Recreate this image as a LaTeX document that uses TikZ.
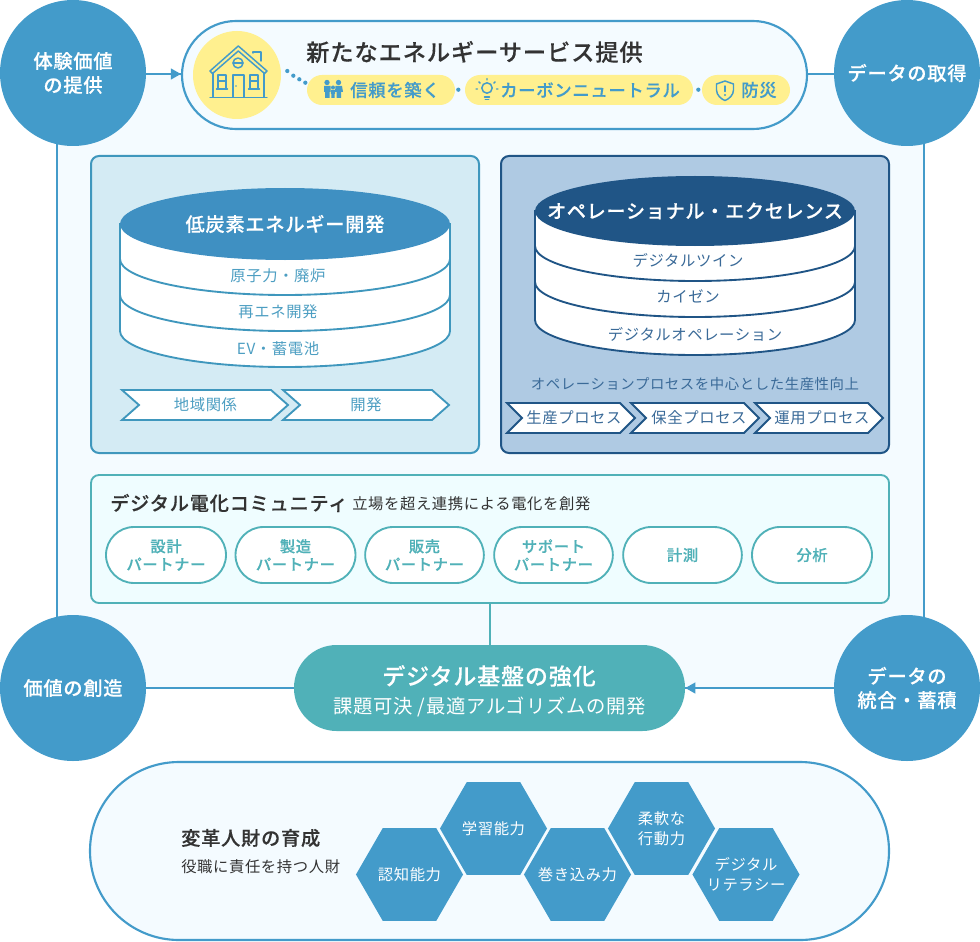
\documentclass[tikz,border=0pt]{standalone}
\usepackage{fontspec}
\setmainfont{Noto Sans CJK JP}[LetterSpace=4,BoldFont={Noto Sans CJK JP Medium},BoldFeatures={FakeBold=0.25}]
\usetikzlibrary{arrows.meta,shapes.geometric}
\definecolor{cblue}{HTML}{439BCA}
\definecolor{pale}{HTML}{F4FBFF}
\definecolor{lpanel}{HTML}{D4EBF4}
\definecolor{lline}{HTML}{3F97BD}
\definecolor{ltop}{HTML}{3F90C2}
\definecolor{ltext}{HTML}{4C9EC2}
\definecolor{rpanel}{HTML}{AFCAE3}
\definecolor{rline}{HTML}{205586}
\definecolor{rtext}{HTML}{3A6A98}
\definecolor{teal}{HTML}{50B1B8}
\definecolor{tealbg}{HTML}{EFFDFF}
\definecolor{yel}{HTML}{FFF08F}
\definecolor{ink}{HTML}{333333}
\newcommand{\pxf}[2]{\fontsize{#1pt}{#2pt}\selectfont}
\tikzset{
  x=0.75pt,y=-0.75pt,
  txt/.style={inner sep=0pt,align=center},
  f11/.style={font=\pxf{11.5}{13.5}},
  f13/.style={font=\pxf{13}{15}},
  fb13/.style={font=\bfseries\pxf{13}{15}},
  fb14/.style={font=\bfseries\pxf{14.4}{18}},
  fb11/.style={font=\bfseries\pxf{11.5}{13.5}},
  circ/.style={circle,fill=cblue,text=white,minimum size=109.5pt,inner sep=0pt,align=center,font=\bfseries\pxf{14.4}{18}},
  link/.style={cblue,line width=1.5pt},
  tipped/.style={-{Triangle[length=7.5pt,width=8pt]}},
  panelL/.style={draw=lline,fill=lpanel,line width=1.5pt,rounded corners=6pt},
  panelR/.style={draw=rline,fill=rpanel,line width=1.5pt,rounded corners=6pt},
  ypill/.style={fill=yel,rounded corners=11.25pt,inner sep=0pt,minimum height=22.5pt},
  cpill/.style={draw=teal,fill=white,line width=1.4pt,rounded corners=21pt,inner sep=0pt,minimum height=42pt,text=teal,align=center,font=\bfseries\pxf{11.5}{13.5}},
  hex/.style={regular polygon,regular polygon sides=6,fill=cblue,inner sep=0pt,minimum size=80.3pt},
  hext/.style={text=white,inner sep=0pt,align=center,font=\pxf{11.5}{15}},
  icon/.style={cblue,line width=1.1pt,line join=round,line cap=round},
}
\newcommand{\chev}[7]{% name x0 p x1 y0 y1 colour
  \path[draw=#7,fill=white,line width=1.4pt,miter limit=8]
    (#2,#5) -- (#4-#3,#5) -- (#4,{(#5+#6)/2}) -- (#4-#3,#6) -- (#2,#6) -- (#2+#3,{(#5+#6)/2}) -- cycle;
  \coordinate (#1) at ({(#2+#4)/2+#3/2-3},{(#5+#6)/2});
}
\newcommand{\halfarc}[4]{% x0 ybase rx(pt) ry(pt)
  (#1,#2) arc[start angle=180,end angle=360,x radius=#3pt,y radius=#4pt]
}
\begin{document}
\begin{tikzpicture}
\useasboundingbox (0,0) rectangle (980,941);
% big frame
\path[draw=cblue,fill=pale,line width=1.5pt] (57,74) rectangle (924,688);

% top pill
\node[draw=cblue,fill=pale,line width=1.6pt,rounded corners=40.5pt,minimum width=468.75pt,minimum height=81pt,inner sep=0pt] (top) at (494.5,75) {};
\node[circle,fill=yel,minimum size=66pt,inner sep=0pt] (home) at (237,75) {};
% house icon
\draw[icon] (210,71) -- (238.3,46) -- (267,71) -- (264.5,73.5) -- (238.3,51) -- (212.5,73.5) -- cycle;
\draw[icon] (253,53) -- (253,52) -- (261,52) -- (261,61);
\draw[icon] (213,73) -- (213,97) (264,73) -- (264,97);
\draw[icon] (210,97.5) -- (267,97.5);
\draw[icon] (238,63) circle[radius=3.75pt];
\draw[icon] (233,63) -- (243,63);
\draw[icon] (233,97) -- (233,75) -- (244,75) -- (244,97);
\draw[icon] (218,89) -- (218,75) -- (226,75) -- (226,89) -- cycle (218,81) -- (226,81) (216.5,89) -- (227.5,89);
\draw[icon] (250,89) -- (250,75) -- (258,75) -- (258,89) -- cycle (250,81) -- (258,81) (248.5,89) -- (259.5,89);
\fill[cblue] (236,86) circle[radius=0.6pt];
% dotted link
\foreach \p in {(287.3,71),(293.3,75.7),(299.3,79.3),(305.3,82.7),(458.3,89.7),(698.3,89.7)}
  \fill[cblue] \p circle[radius=1.6pt];

\node[txt,anchor=west,text=ink,font=\bfseries\pxf{17.4}{20}] (title) at (306,52) {新たなエネルギーサービス提供};
\node[ypill,minimum width=111pt] (p1) at (381,90) {};
\node[ypill,minimum width=171pt] (p2) at (579,90) {};
\node[ypill,minimum width=66pt] (p3) at (746,90) {};
\node[txt,fb13,text=cblue,anchor=west] (p1t) at (350,90) {信頼を築く};
\node[txt,fb13,text=cblue,anchor=west] (p2t) at (500,90) {カーボンニュートラル};
\node[txt,fb13,text=cblue,anchor=west] (p3t) at (741,90) {防災};
% people icon
\fill[cblue] (327,82.5) circle[radius=2pt] (338.5,82.5) circle[radius=2pt] (333,87.5) circle[radius=1.5pt];
\fill[cblue] (324,86) -- (330.5,86) -- (330.5,92) -- (329.5,92) -- (329.5,98) -- (325,98) -- (325,92) -- (324,92) -- cycle;
\fill[cblue] (335.5,86) -- (342,86) -- (343,92) -- (341,92) -- (341,98) -- (336.5,98) -- (336.5,92) -- (335,92) -- cycle;
\fill[cblue] (330.8,90) -- (335.2,90) -- (335.2,94) -- (334.7,94) -- (334.7,98) -- (331.3,98) -- (331.3,94) -- (330.8,94) -- cycle;
% bulb icon
\draw[icon] (487,88) circle[radius=3.9pt];
\draw[icon] (484.5,97) -- (489.5,97) (485.3,99.5) -- (488.7,99.5);
\draw[icon] (487,78.5) -- (487,80) (479,82) -- (480,83) (495,82) -- (494,83) (476,89) -- (477.5,89) (496.5,89) -- (498,89);
% shield icon
\draw[icon] (725,81) -- (733.5,84) -- (733.5,90) .. controls (733.5,95) and (729,99) .. (725,100.5) .. controls (721,99) and (716.5,95) .. (716.5,90) -- (716.5,84) -- cycle;
\draw[icon] (725,86) -- (725,91.5);
\fill[cblue] (725,95) circle[radius=0.9pt];

% left panel
\node[panelL,minimum width=291pt,minimum height=222.75pt,inner sep=0pt] (pl) at (285,304.5) {};
\path[draw=lline,fill=white,line width=1.4pt] (120,224) -- (120,331) arc[start angle=180,end angle=360,x radius=123.75pt,y radius=27pt] -- (450,224) -- cycle;
\draw[lline,line width=1.4pt] \halfarc{120}{259}{123.75}{27};
\draw[lline,line width=1.4pt] \halfarc{120}{295}{123.75}{27};
\node[ellipse,fill=ltop,minimum width=247.5pt,minimum height=54pt,inner sep=0pt] (cl) at (285,224) {};
\node[txt,text=white,font=\bfseries\pxf{14.4}{18}] (clt) at (285,224) {低炭素エネルギー開発};
\node[txt,f11,text=ltext] (cl1) at (278,276) {原子力・廃炉};
\node[txt,f11,text=ltext] (cl2) at (278,312) {再エネ開発};
\node[txt,f11,text=ltext] (cl3) at (278,349) {EV・蓄電池};
\chev{c1}{122}{17}{288}{390}{420}{lline}
\chev{c2}{283}{17}{449}{390}{420}{lline}
\node[txt,f11,text=ltext] (c1t) at (205.5,405) {地域関係};
\node[txt,f11,text=ltext] (c2t) at (366,405) {開発};

% right panel
\node[panelR,minimum width=291pt,minimum height=222.75pt,inner sep=0pt] (pr) at (695,304.5) {};
\path[draw=rline,fill=white,line width=1.4pt] (535,211) -- (535,320) arc[start angle=180,end angle=360,x radius=120pt,y radius=26.25pt] -- (855,211) -- cycle;
\draw[rline,line width=1.4pt] \halfarc{535}{246}{120}{26.25};
\draw[rline,line width=1.4pt] \halfarc{535}{282}{120}{26.25};
\node[ellipse,fill=rline,minimum width=240pt,minimum height=52.5pt,inner sep=0pt] (cr) at (695,211) {};
\node[txt,text=white,font=\bfseries\pxf{14.3}{18}] (crt) at (695,211) {オペレーショナル・エクセレンス};
\node[txt,f11,text=rtext] (cr1) at (688,260) {デジタルツイン};
\node[txt,f11,text=rtext] (cr2) at (688,296) {カイゼン};
\node[txt,f11,text=rtext] (cr3) at (695,334) {デジタルオペレーション};
\node[txt,text=rtext,font=\pxf{10.8}{13}] (crn) at (695,384) {オペレーションプロセスを中心とした生産性向上};
\chev{d1}{507}{15}{635}{403}{433}{rline}
\chev{d2}{631}{15}{759}{403}{433}{rline}
\chev{d3}{755}{15}{883}{403}{433}{rline}
\node[txt,f11,text=rtext] (d1t) at (574,418) {生産プロセス};
\node[txt,f11,text=rtext] (d2t) at (699,418) {保全プロセス};
\node[txt,f11,text=rtext] (d3t) at (822,418) {運用プロセス};

% community
\node[draw=teal,fill=tealbg,line width=1.4pt,rounded corners=6pt,minimum width=598.5pt,minimum height=96pt,inner sep=0pt] (com) at (490,539) {};
\node[txt,anchor=west,text=ink,fb14] (comt) at (110,503) {デジタル電化コミュニティ};
\node[txt,anchor=west,text=ink,f11] (coms) at (352,504) {立場を超え連携による電化を創発};
\node[cpill,minimum width=90pt] (s1) at (166,555) {設計\\パートナー};
\node[cpill,minimum width=90pt] (s2) at (295.5,555) {製造\\パートナー};
\node[cpill,minimum width=89pt] (s3) at (424.5,555) {販売\\パートナー};
\node[cpill,minimum width=89pt] (s4) at (553.5,555) {サポート\\パートナー};
\node[cpill,minimum width=89pt] (s5) at (682.5,555) {計測};
\node[cpill,minimum width=90pt] (s6) at (812,555) {分析};

% digital base
\node[fill=teal,rounded corners=32pt,minimum width=293.25pt,minimum height=64.5pt,inner sep=0pt] (dig) at (489.5,688) {};
\node[txt,text=white,font=\bfseries\pxf{17.2}{20}] (digt) at (489,676) {デジタル基盤の強化};
\node[txt,text=white,font=\pxf{14.5}{16}] (digs) at (489.5,707) {課題可決 /最適アルゴリズムの開発};

% circles
\node[circ] (tl) at (73,73) {体験価値\\の提供};
\node[circ] (tr) at (907,73) {データの取得};
\node[circ] (bl) at (73,688) {価値の創造};
\node[circ] (br) at (907,688) {データの\\統合・蓄積};

% connectors
\draw[link,tipped] (tl.east |- 0,74) -- (top.west |- 0,74);
\draw[link] (top.east |- 0,74) -- (tr.west |- 0,74);
\draw[link] (bl.east) -- (dig.west |- bl.east);
\draw[link,tipped] (br.west) -- (dig.east |- br.west);
\draw[teal,line width=1.5pt] (com.south) -- (com.south |- dig.north);

% bottom pill
\node[draw=cblue,fill=pale,line width=1.6pt,rounded corners=66.7pt,minimum width=599.25pt,minimum height=133.5pt,inner sep=0pt] (bot) at (489.5,851) {};
\node[txt,anchor=west,text=ink,fb14] (bott) at (181,838) {変革人財の育成};
\node[txt,anchor=west,text=ink,f11] (bots) at (181,867) {役職に責任を持つ人財};
\node[hex] (h1) at (409.5,874.5) {};
\node[hex] (h2) at (493.5,828.5) {};
\node[hex] (h3) at (577.5,874.5) {};
\node[hex] (h4) at (661.5,828.5) {};
\node[hex] (h5) at (746,874.5) {};
\node[hext] (h1t) at (h1) {認知能力};
\node[hext] (h2t) at (h2) {学習能力};
\node[hext] (h3t) at (h3) {巻き込み力};
\node[hext] (h4t) at (h4) {柔軟な\\行動力};
\node[hext] (h5t) at (h5) {デジタル\\リテラシー};
\end{tikzpicture}
\end{document}
